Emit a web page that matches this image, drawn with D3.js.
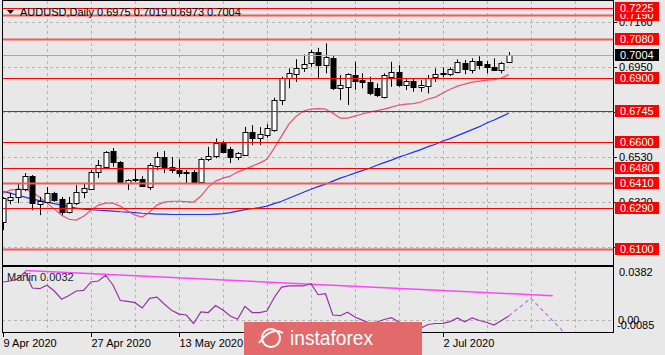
<!doctype html>
<html>
<head>
<meta charset="utf-8">
<title>AUDUSD Daily</title>
<script src="https://cdn.jsdelivr.net/npm/d3@7"></script>
<style>
    html, body {
        margin: 0px;
        padding: 0px;
        background: #e8e8e8;
    }
    svg { display: block; }
    text { font-family: "Liberation Sans", Arial, sans-serif; }
</style>
</head>
<body>
<svg id="chart" width="665" height="355"></svg>
<script>
// bar 0 = 9 Apr 2020 ... bar 69 = 15 Jul 2020 (daily bars)
var opens = [0.6225, 0.6331, 0.6342, 0.6379, 0.6440, 0.6309, 0.6320, 0.6362, 0.6333, 0.6273,
    0.6315, 0.6365, 0.6379, 0.6460, 0.6484, 0.6557, 0.6507, 0.6409, 0.6421, 0.6426,
    0.6390, 0.6488, 0.6529, 0.6484, 0.6468, 0.6457, 0.6460, 0.6413, 0.6518, 0.6533,
    0.6593, 0.6565, 0.6530, 0.6541, 0.6647, 0.6616, 0.6632, 0.6655, 0.6795, 0.6896,
    0.6915, 0.6943, 0.6966, 0.7018, 0.6958, 0.6990, 0.6850, 0.6857, 0.6912, 0.6888,
    0.6880, 0.6850, 0.6808, 0.6901, 0.6924, 0.6865, 0.6885, 0.6854, 0.6860, 0.6901,
    0.6918, 0.6916, 0.6927, 0.6969, 0.6935, 0.6979, 0.6963, 0.6948, 0.6935, 0.6975];
var highs = [0.6342, 0.6362, 0.6407, 0.6454, 0.6445, 0.6343, 0.6389, 0.6367, 0.6343, 0.6343,
    0.6398, 0.6407, 0.6468, 0.6515, 0.6557, 0.6571, 0.6510, 0.6426, 0.6477, 0.6440,
    0.6501, 0.6552, 0.6558, 0.6529, 0.6519, 0.6468, 0.6468, 0.6524, 0.6577, 0.6616,
    0.6604, 0.6577, 0.6552, 0.6670, 0.6678, 0.6669, 0.6683, 0.6806, 0.6904, 0.6943,
    0.6986, 0.7008, 0.7029, 0.7039, 0.7060, 0.7000, 0.6912, 0.6920, 0.6974, 0.6920,
    0.6904, 0.6873, 0.6920, 0.6974, 0.6958, 0.6892, 0.6896, 0.6888, 0.6912, 0.6943,
    0.6948, 0.6948, 0.6985, 0.6982, 0.6990, 0.7000, 0.6979, 0.6990, 0.6974, 0.7019];
var lows = [0.6188, 0.6309, 0.6314, 0.6370, 0.6281, 0.6258, 0.6314, 0.6320, 0.6258, 0.6266,
    0.6305, 0.6337, 0.6375, 0.6431, 0.6482, 0.6484, 0.6407, 0.6375, 0.6413, 0.6389,
    0.6375, 0.6468, 0.6454, 0.6454, 0.6437, 0.6407, 0.6403, 0.6407, 0.6510, 0.6524,
    0.6547, 0.6501, 0.6515, 0.6538, 0.6585, 0.6585, 0.6618, 0.6647, 0.6772, 0.6850,
    0.6880, 0.6927, 0.6951, 0.6899, 0.6920, 0.6842, 0.6795, 0.6772, 0.6842, 0.6850,
    0.6818, 0.6809, 0.6803, 0.6857, 0.6857, 0.6842, 0.6834, 0.6834, 0.6826, 0.6880,
    0.6901, 0.6907, 0.6920, 0.6916, 0.6920, 0.6938, 0.6920, 0.6932, 0.6920, 0.6973];
var closes = [0.6337, 0.6343, 0.6379, 0.6440, 0.6314, 0.6325, 0.6362, 0.6328, 0.6273, 0.6315,
    0.6367, 0.6384, 0.6460, 0.6491, 0.6552, 0.6507, 0.6409, 0.6421, 0.6426, 0.6395,
    0.6491, 0.6529, 0.6484, 0.6468, 0.6453, 0.6458, 0.6406, 0.6519, 0.6533, 0.6593,
    0.6554, 0.6530, 0.6546, 0.6647, 0.6616, 0.6636, 0.6667, 0.6795, 0.6896, 0.6920,
    0.6943, 0.6962, 0.7018, 0.6958, 0.6994, 0.6850, 0.6865, 0.6915, 0.6884, 0.6880,
    0.6829, 0.6818, 0.6912, 0.6927, 0.6865, 0.6885, 0.6857, 0.6865, 0.6896, 0.6915,
    0.6920, 0.6938, 0.6974, 0.6938, 0.6979, 0.6958, 0.6948, 0.6935, 0.6969, 0.7004];

// red (fast) and blue (slow) moving averages, one value per bar
var maFast = [0.6361, 0.6375, 0.6379, 0.6379, 0.6365, 0.6342, 0.6314, 0.6286, 0.6258, 0.6239,
    0.6235, 0.6253, 0.6281, 0.6305, 0.6314, 0.6314, 0.6300, 0.6277, 0.6258, 0.6249,
    0.6272, 0.6305, 0.6319, 0.6323, 0.6323, 0.6321, 0.6319, 0.6347, 0.6389, 0.6417,
    0.6431, 0.6440, 0.6459, 0.6473, 0.6487, 0.6501, 0.6519, 0.6571, 0.6627, 0.6683,
    0.6720, 0.6744, 0.6753, 0.6755, 0.6753, 0.6734, 0.6711, 0.6711, 0.6720, 0.6730,
    0.6739, 0.6746, 0.6753, 0.6762, 0.6772, 0.6776, 0.6779, 0.6786, 0.6800, 0.6809,
    0.6828, 0.6846, 0.6860, 0.6870, 0.6879, 0.6884, 0.6888, 0.6891, 0.6898, 0.6914];
var maSlow = [0.6368, 0.6361, 0.6351, 0.6342, 0.6333, 0.6326, 0.6319, 0.6312, 0.6305, 0.6298,
    0.6291, 0.6286, 0.6284, 0.6281, 0.6279, 0.6277, 0.6274, 0.6272, 0.6270, 0.6267,
    0.6265, 0.6263, 0.6263, 0.6261, 0.6261, 0.6261, 0.6261, 0.6261, 0.6261, 0.6263,
    0.6265, 0.6270, 0.6277, 0.6284, 0.6288, 0.6293, 0.6300, 0.6312, 0.6323, 0.6337,
    0.6351, 0.6365, 0.6379, 0.6391, 0.6403, 0.6417, 0.6431, 0.6442, 0.6454, 0.6466,
    0.6477, 0.6491, 0.6503, 0.6515, 0.6529, 0.6540, 0.6552, 0.6564, 0.6578, 0.6589,
    0.6604, 0.6615, 0.6629, 0.6643, 0.6657, 0.6671, 0.6688, 0.6702, 0.6718, 0.6734];

// Marlin oscillator
var marlin = [0.0280, 0.0287, 0.0302, 0.0353, 0.0236, 0.0231, 0.0256, 0.0214, 0.0154, 0.0181,
    0.0214, 0.0219, 0.0280, 0.0287, 0.0329, 0.0258, 0.0145, 0.0139, 0.0129, 0.0090,
    0.0161, 0.0170, 0.0119, 0.0073, 0.0046, 0.0039, -0.0023, 0.0061, 0.0057, 0.0108,
    0.0075, 0.0032, 0.0008, 0.0102, 0.0057, 0.0057, 0.0068, 0.0167, 0.0243, 0.0251,
    0.0251, 0.0251, 0.0267, 0.0187, 0.0194, 0.0039, 0.0034, 0.0059, 0.0024, 0.0002,
    -0.0019, -0.0012, 0.0006, 0.0019, -0.0012, -0.0041, -0.0056, -0.0056, -0.0030, -0.0023,
    -0.0022, -0.0009, 0.0017, -0.0010, 0.0017, -0.0001, -0.0016, -0.0034, -0.0001, 0.0032];
var forecastBars = [69, 72, 77];
var forecastValues = [0.0032, 0.0161, -0.0113];
var trendBars = [3, 75];
var trendValues = [0.0364, 0.0180];

var levels = [0.6100, 0.6290, 0.6410, 0.6480, 0.6600, 0.6745, 0.6900, 0.7080, 0.7190, 0.7225];
var priceTicks = [0.7160, 0.6950, 0.6740, 0.6530, 0.6320, 0.6110];
// date labels that are not covered by the watermark
var dateBars = [0, 12, 24, 60];
var dateLabels = ['9 Apr 2020', '27 Apr 2020', '13 May 2020', '2 Jul 2020'];
var lastPrice = 0.7004;

var left = 2, right = 613, mainTop = 1, mainBottom = 266, subBottom = 333;
var thick = {0.7190: 1, 0.7080: 1, 0.6410: 1, 0.6100: 1};

var svg = d3.select('#chart');
var x = d3.scaleLinear().domain([0, 78]).range([3, 3 + 78 * 7.33]);
var y = d3.scaleLinear().domain([0.6100, 0.7225]).range([249, 8]);
var ym = d3.scaleLinear().domain([-0.0085, 0.0382]).range([332, 268]);
var bars = d3.range(opens.length);

var defs = svg.append('defs');
defs.append('clipPath').attr('id', 'clipMain').append('rect')
    .attr('x', left).attr('y', mainTop).attr('width', right - left).attr('height', mainBottom - mainTop);
defs.append('clipPath').attr('id', 'clipSub').append('rect')
    .attr('x', left).attr('y', mainBottom).attr('width', right - left).attr('height', subBottom - mainBottom);

// grid
var grid = svg.append('g').attr('stroke', '#b4b4b4').attr('stroke-dasharray', '3,3');
d3.range(6, 79, 6).forEach(function(b) {
    var gx = Math.round(x(b)) + 0.5;
    grid.append('line').attr('x1', gx).attr('x2', gx).attr('y1', mainTop).attr('y2', subBottom);
});
priceTicks.forEach(function(p) {
    var gy = Math.round(y(p)) + 0.5;
    grid.append('line').attr('x1', left).attr('x2', right).attr('y1', gy).attr('y2', gy);
});
grid.append('line').attr('x1', left).attr('x2', right)
    .attr('y1', Math.round(ym(0)) + 0.5).attr('y2', Math.round(ym(0)) + 0.5);

var main = svg.append('g').attr('clip-path', 'url(#clipMain)');

// moving averages
var lineMain = d3.line().x(function(d, i) { return x(i); }).y(function(d) { return y(d); });
main.append('path').datum(maSlow).attr('d', lineMain)
    .attr('fill', 'none').attr('stroke', '#2233ee').attr('stroke-width', 1.2);
main.append('path').datum(maFast).attr('d', lineMain)
    .attr('fill', 'none').attr('stroke', '#e8507a').attr('stroke-width', 1.2);

// candles
var candles = main.append('g');
bars.forEach(function(i) {
    var cx = Math.round(x(i)) + 0.5;
    var up = closes[i] >= opens[i];
    var top = Math.round(y(Math.max(opens[i], closes[i])));
    var bot = Math.round(y(Math.min(opens[i], closes[i])));
    candles.append('line').attr('x1', cx).attr('x2', cx)
        .attr('y1', y(highs[i])).attr('y2', y(lows[i])).attr('stroke', '#000');
    candles.append('rect').attr('x', cx - 2.5).attr('y', top + 0.5)
        .attr('width', 5).attr('height', Math.max(bot - top, 1))
        .attr('fill', up ? '#fff' : '#000').attr('stroke', '#000').attr('stroke-width', 1);
});

// price line and levels
main.append('line').attr('x1', left).attr('x2', right)
    .attr('y1', Math.round(y(lastPrice)) + 0.5).attr('y2', Math.round(y(lastPrice)) + 0.5)
    .attr('stroke', '#a9a9a9');
levels.forEach(function(p) {
    var ly = Math.round(y(p)) + 0.5;
    main.append('line').attr('x1', left).attr('x2', right).attr('y1', ly).attr('y2', ly)
        .attr('stroke', thick[p] ? '#f25a5a' : '#ff0000')
        .attr('stroke-width', thick[p] ? 2 : 1);
});

// Marlin panel
var sub = svg.append('g').attr('clip-path', 'url(#clipSub)');
sub.append('path').datum(trendBars.map(function(b, i) { return [b, trendValues[i]]; }))
    .attr('d', d3.line().x(function(d) { return x(d[0]); }).y(function(d) { return ym(d[1]); }))
    .attr('fill', 'none').attr('stroke', '#ff44ff').attr('stroke-width', 1.5);
sub.append('path').datum(marlin)
    .attr('d', d3.line().x(function(d, i) { return x(i); }).y(function(d) { return ym(d); }))
    .attr('fill', 'none').attr('stroke', '#9a30a8').attr('stroke-width', 1.2);
sub.append('path').datum(forecastBars.map(function(b, i) { return [b, forecastValues[i]]; }))
    .attr('d', d3.line().x(function(d) { return x(d[0]); }).y(function(d) { return ym(d[1]); }))
    .attr('fill', 'none').attr('stroke', '#b57ae0').attr('stroke-width', 1.2)
    .attr('stroke-dasharray', '4,3');

// frames
var frame = svg.append('g').attr('fill', 'none').attr('stroke', '#000');
frame.append('rect').attr('x', left + 0.5).attr('y', mainTop - 0.5)
    .attr('width', right - left).attr('height', mainBottom - mainTop);
frame.append('rect').attr('x', left + 0.5).attr('y', mainBottom + 0.5)
    .attr('width', right - left).attr('height', subBottom - mainBottom - 1);

// right axis labels (those fully under a level tag are left out)
var axisG = svg.append('g').attr('font-size', 11).attr('fill', '#000');
priceTicks.forEach(function(p) {
    var ty = Math.round(y(p)) + 0.5;
    axisG.append('line').attr('x1', right).attr('x2', right + 4).attr('y1', ty).attr('y2', ty).attr('stroke', '#000');
    var hidden = levels.some(function(l) { return Math.abs(y(l) - y(p)) < 4; });
    if (!hidden) {
        axisG.append('text').attr('x', 619).attr('y', ty).attr('dy', '0.35em').text(p.toFixed(4));
    }
});
axisG.append('text').attr('x', 619).attr('y', ym(0.0382)).attr('dy', '0.75em').text('0.0382');
axisG.append('text').attr('x', 618).attr('y', 324).text('0.00');
axisG.append('text').attr('x', 617).attr('y', 329).text('-0.0085');

// level tags
levels.forEach(function(p) {
    var ly = Math.round(y(p));
    axisG.append('rect').attr('x', 615).attr('y', ly - 6).attr('width', 44).attr('height', 12).attr('fill', '#ff0000');
    axisG.append('text').attr('x', 620).attr('y', ly).attr('dy', '0.38em').attr('fill', '#fff').text(p.toFixed(4));
});
var py = Math.round(y(lastPrice));
axisG.append('rect').attr('x', 615).attr('y', py - 6).attr('width', 44).attr('height', 12).attr('fill', '#000');
axisG.append('text').attr('x', 620).attr('y', py).attr('dy', '0.38em').attr('fill', '#fff').text(lastPrice.toFixed(4));

// date axis
dateBars.forEach(function(b, i) {
    var dx = Math.round(x(b)) + 0.5;
    axisG.append('line').attr('x1', dx).attr('x2', dx).attr('y1', subBottom).attr('y2', subBottom + 4).attr('stroke', '#000');
    axisG.append('text').attr('x', dx).attr('y', 347).text(dateLabels[i]);
});

// titles
svg.append('path').attr('d', 'M7,10 L14,10 L10.5,14 Z').attr('fill', '#000');
svg.append('text').attr('x', 20).attr('y', 16).attr('font-size', 11)
    .text('AUDUSD,Daily  ' + [opens[69], highs[69], lows[69], closes[69]].map(function(v) { return v.toFixed(4); }).join(' '));
svg.append('text').attr('x', 7).attr('y', 281).attr('font-size', 11).attr('fill', '#222')
    .text('Marlin ' + marlin[marlin.length - 1].toFixed(4));

// watermark
var logo = svg.append('g');
logo.append('rect').attr('x', 244).attr('y', 322).attr('width', 178).attr('height', 33).attr('fill', '#e36a6a');
logo.append('circle').attr('cx', 271).attr('cy', 338).attr('r', 9)
    .attr('fill', 'none').attr('stroke', '#fff').attr('stroke-width', 2);
logo.append('path').attr('d', 'M259,343 Q271,326 283,333').attr('fill', 'none').attr('stroke', '#fff').attr('stroke-width', 2);
logo.append('text').attr('x', 290).attr('y', 345).attr('font-size', 21)
    .attr('font-family', 'Lato, sans-serif').attr('fill', '#fff')
    .attr('textLength', 83).attr('lengthAdjust', 'spacingAndGlyphs').text('instaforex');
</script>
</body>
</html>
